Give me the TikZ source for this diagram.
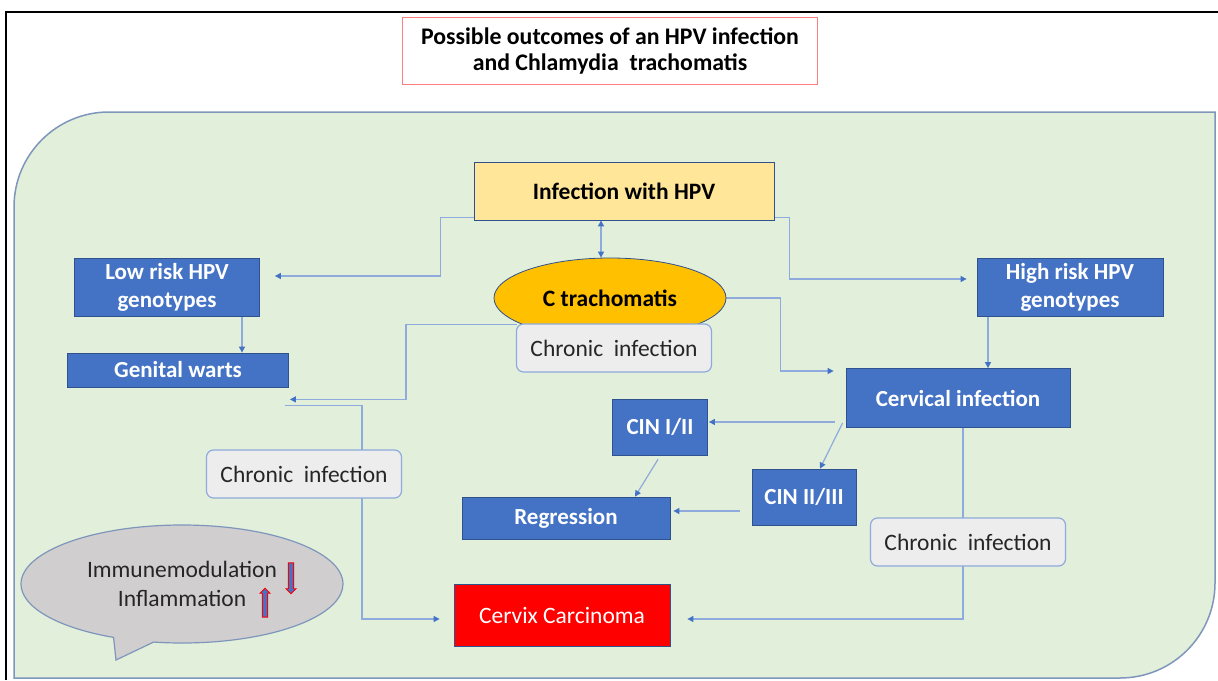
\documentclass[tikz,border=0pt]{standalone}
\usepackage{fontspec}
\setmainfont{Carlito}
\usepackage{tikz}
\usetikzlibrary{positioning, arrows.meta, shapes.geometric, shapes.callouts, shapes.arrows}
\definecolor{panelgreen}{HTML}{E2EFDA}
\definecolor{panelline}{HTML}{7F96BC}
\definecolor{boxblue}{HTML}{4472C4}
\definecolor{boxline}{HTML}{2F528F}
\definecolor{linkline}{HTML}{8FAADC}
\definecolor{tipblue}{HTML}{4472C4}
\definecolor{hpvyellow}{HTML}{FFE699}
\definecolor{ctorange}{HTML}{FFC000}
\definecolor{chronicgray}{HTML}{EDEDED}
\definecolor{titlered}{HTML}{FF7C80}
\definecolor{bubblegray}{HTML}{D0CECE}
\definecolor{textgray}{HTML}{262626}
\pgfdeclarelayer{bg}
\pgfsetlayers{bg,main}

\begin{document}
\begin{tikzpicture}[x=1pt, y=-1pt,
    txt/.style={font=\fontsize{23.5}{27}\selectfont},
    blue box/.style={font=\fontsize{23}{28}\selectfont\bfseries, rectangle, draw=boxline, line width=0.8pt, fill=boxblue, text=white, align=center, inner sep=0pt},
    chronic/.style={txt, rectangle, rounded corners=7pt, draw=linkline, line width=1.2pt, fill=chronicgray, text=textgray, inner sep=0pt, minimum width=195pt, minimum height=48pt},
    link/.style={draw=linkline, line width=1.2pt, -{Triangle[length=6pt, width=6pt, color=tipblue]}},
    updown/.style={single arrow, draw=red, fill=boxblue, line width=0.9pt, inner sep=2.2pt, single arrow head extend=2.4pt, single arrow head indent=0pt}]

  \useasboundingbox (0,0) rectangle (1218,680);
  \draw[line width=2.5pt] (6,680) -- (6,12) -- (1218,12);

  \node[font=\fontsize{23.8}{26}\selectfont\bfseries, draw=titlered, line width=1.5pt, fill=white, align=center, minimum width=415pt, minimum height=67pt, inner sep=0pt] (title) at (610,51) {Possible outcomes of an HPV infection\\and Chlamydia\ \ trachomatis};

  \node[font=\fontsize{23.5}{27}\selectfont\bfseries, draw=boxline, line width=0.8pt, fill=hpvyellow, minimum width=300pt, minimum height=58pt, inner sep=0pt] (hpv) at (624,191) {Infection with HPV};
  \node[font=\fontsize{23.5}{27}\selectfont\bfseries, ellipse, draw=boxline, line width=0.8pt, fill=ctorange, minimum width=232pt, minimum height=80pt, inner sep=0pt] (ct) at (610,298) {C trachomatis};
  \node[chronic] (chr1) at (614,348) {Chronic\ \ infection};

  \node[blue box, minimum width=185pt, minimum height=58pt] (low) at (167,287) {Low risk HPV\\genotypes};
  \node[blue box, minimum width=221pt, minimum height=34pt] (gw) at (178,370) {Genital warts};
  \node[blue box, minimum width=186pt, minimum height=58pt] (high) at (1070,287) {High risk HPV\\genotypes};
  \node[blue box, minimum width=224pt, minimum height=59pt] (cerv) at (958,398) {Cervical infection};
  \node[blue box, minimum width=95pt, minimum height=56pt] (cin1) at (660,427) {CIN I/II};
  \node[blue box, minimum width=104pt, minimum height=56pt] (cin2) at (804,497) {CIN II/III};
  \node[blue box, minimum width=208pt, minimum height=42pt] (reg) at (566,518) {Regression};

  \node[chronic] (chr2) at (304,474) {Chronic\ \ infection};
  \node[chronic] (chr3) at (968,542) {Chronic\ \ infection};

  \node[txt, rectangle, draw=boxline, line width=0.8pt, fill=red, text=white, minimum width=216pt, minimum height=62pt, inner sep=0pt] (carc) at (562,615) {Cervix Carcinoma};

  \node[font=\fontsize{23.5}{29}\selectfont, ellipse callout, draw=panelline, line width=1.2pt, fill=bubblegray, text=textgray, align=center, minimum width=322pt, minimum height=118pt, inner sep=0pt, callout absolute pointer={(116,660)}] (mood) at (182,584) {Immunemodulation\\Inflammation};
  \node[updown, shape border rotate=270, minimum height=31pt] (down) at (291,577) {};
  \node[updown, shape border rotate=90, minimum height=29pt] (up) at (265,604) {};

  \begin{pgfonlayer}{bg}
    \draw[panelline, fill=panelgreen, line width=1.5pt] (14,678) -- (14,207) .. controls (14,154.5) and (56.5,112) .. (109,112) -- (1215,112) -- (1215,583) .. controls (1215,635.5) and (1172.5,678) .. (1120,678) -- cycle;

    \draw[link] ([yshift=3pt]hpv.south west) -- ++(-33,0) |- ([shift={(15pt,11pt)}]low.east);
    \draw[link] ([yshift=3pt]hpv.south east) -- ++(15,0) |- ([shift={(-10pt,8pt)}]high.west);
    \draw[link, {Triangle[length=6pt, width=6pt, color=tipblue]}-{Triangle[length=6pt, width=6pt, color=tipblue]}] ([xshift=-23pt]hpv.south) -- ([xshift=-23pt]hpv.south |- ct.north);
    \draw[link] (ct.east) -- ++(54,0) |- ([shift={(-12pt,27pt)}]cerv.west);
    \draw[link] ([shift={(1pt,-1pt)}]chr1.north west) -- ++(-111,0) |- ([shift={(1pt,-12pt)}]gw.south east);
    \draw[link] ([xshift=75pt]low.south) -- ([xshift=75pt]low.south |- gw.north);
    \draw[link] ([shift={(-4pt,-18pt)}]gw.south east) -| ([xshift=58pt]chr2.center) |- ([shift={(-14pt,-4pt)}]carc.west);
    \draw[link] ([xshift=-82pt]high.south) -- ([xshift=-82pt]high.south |- cerv.north);
    \draw[link] ([shift={(-11pt,-24pt)}]cerv.west) -- ([shift={(1pt,5pt)}]cin1.east);
    \draw[link] ([shift={(-3pt,5pt)}]cerv.south west) -- ([xshift=16pt]cin2.north);
    \draw[link] ([shift={(-2pt,-4pt)}]cin1.south) -- ([xshift=69pt]reg.north);
    \draw[link] ([shift={(-12pt,-14pt)}]cin2.west) -- ([shift={(3pt,7pt)}]reg.east);
    \draw[link] ([xshift=5pt]cerv.south) |- ([shift={(17pt,-4pt)}]carc.east);
  \end{pgfonlayer}
\end{tikzpicture}
\end{document}
